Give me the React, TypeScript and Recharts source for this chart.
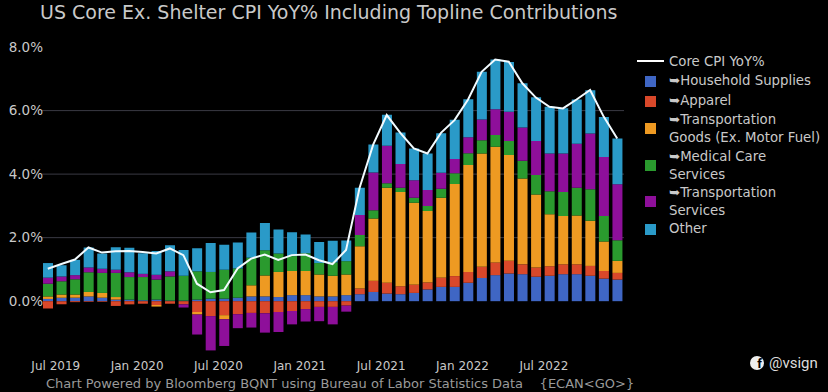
import React from 'react';
import { ComposedChart, Bar, Line, XAxis, YAxis, CartesianGrid, Legend } from 'recharts';

const months = [
  'Jul 2019', 'Aug 2019', 'Sep 2019', 'Oct 2019', 'Nov 2019', 'Dec 2019',
  'Jan 2020', 'Feb 2020', 'Mar 2020', 'Apr 2020', 'May 2020', 'Jun 2020',
  'Jul 2020', 'Aug 2020', 'Sep 2020', 'Oct 2020', 'Nov 2020', 'Dec 2020',
  'Jan 2021', 'Feb 2021', 'Mar 2021', 'Apr 2021', 'May 2021', 'Jun 2021',
  'Jul 2021', 'Aug 2021', 'Sep 2021', 'Oct 2021', 'Nov 2021', 'Dec 2021',
  'Jan 2022', 'Feb 2022', 'Mar 2022', 'Apr 2022', 'May 2022', 'Jun 2022',
  'Jul 2022', 'Aug 2022', 'Sep 2022', 'Oct 2022', 'Nov 2022', 'Dec 2022', 'Jan 2023',
];
const xTicks = ['Jul 2019', 'Jan 2020', 'Jul 2020', 'Jan 2021', 'Jul 2021', 'Jan 2022', 'Jul 2022'];
const yTicks = [0, 2, 4, 6, 8];
const gridValues = [2, 4, 6];

const household = [0.07, 0.11, 0.11, 0.15, 0.11, 0.05, 0.05, 0.03, 0.05, 0.02, 0.02, 0.05, 0.08, 0.08, 0.11, 0.15, 0.15, 0.13, 0.19, 0.19, 0.15, 0.15, 0.19, 0.22, 0.29, 0.24, 0.22, 0.26, 0.37, 0.45, 0.45, 0.58, 0.73, 0.82, 0.87, 0.85, 0.77, 0.8, 0.85, 0.85, 0.8, 0.71, 0.68];
const apparel = [-0.23, -0.1, -0.03, -0.02, -0.02, -0.15, -0.1, -0.08, -0.12, -0.08, -0.1, -0.34, -0.47, -0.44, -0.41, -0.37, -0.38, -0.34, -0.31, -0.25, -0.18, -0.18, -0.14, 0.18, 0.35, 0.34, 0.25, 0.26, 0.22, 0.29, 0.34, 0.34, 0.35, 0.4, 0.4, 0.31, 0.29, 0.3, 0.31, 0.31, 0.31, 0.24, 0.21];
const transportGoods = [0.08, 0.1, 0.1, 0.14, 0.15, 0.08, 0, 0, -0.05, 0, 0, -0.08, 0, -0.13, 0, 0.35, 0.66, 0.79, 0.76, 0.76, 0.69, 0.65, 0.65, 1.33, 1.96, 2.99, 2.97, 2.58, 2.25, 2.52, 2.9, 3.37, 3.57, 3.64, 3.33, 2.7, 2.3, 1.64, 1.52, 1.54, 1.42, 0.93, 0.38];
const medicalCare = [0.4, 0.42, 0.48, 0.62, 0.63, 0.76, 0.71, 0.73, 0.63, 0.76, 0.78, 0.89, 0.84, 0.91, 0.92, 0.87, 0.79, 0.58, 0.47, 0.56, 0.36, 0.42, 0.42, 0.35, 0.26, 0.14, 0.13, 0.16, 0.16, 0.28, 0.34, 0.37, 0.42, 0.37, 0.44, 0.56, 0.61, 0.72, 0.76, 0.87, 0.99, 0.8, 0.65];
const transportServices = [0.19, 0.15, 0.13, 0.15, 0.13, 0.1, 0.15, 0.1, 0.15, 0.16, -0.1, -0.63, -1.08, -0.84, -0.44, -0.46, -0.61, -0.63, -0.42, -0.39, -0.45, -0.55, -0.19, 0.63, 1.19, 1.18, 0.75, 0.55, 0.5, 0.5, 0.45, 0.5, 0.65, 0.81, 0.92, 1.05, 1.07, 1.19, 1.21, 1.39, 1.76, 1.86, 1.76];
const other = [0.46, 0.35, 0.48, 0.63, 0.48, 0.71, 0.77, 0.65, 0.75, 0.82, 0.81, 0.73, 0.91, 0.79, 0.82, 0.79, 0.86, 0.76, 0.75, 0.59, 0.66, 0.68, 0.65, 0.86, 0.88, 0.98, 0.99, 1, 1.15, 1.25, 1.23, 1.2, 1.5, 1.57, 1.57, 1.39, 1.38, 1.47, 1.42, 1.39, 1.36, 1.26, 1.44];
const coreCpi = [1.02, 1.17, 1.31, 1.69, 1.53, 1.57, 1.58, 1.55, 1.5, 1.66, 1.45, 0.55, 0.28, 0.35, 1.03, 1.34, 1.47, 1.3, 1.45, 1.47, 1.29, 1.17, 1.61, 3.57, 4.93, 5.86, 5.3, 4.81, 4.65, 5.3, 5.7, 6.35, 7.22, 7.61, 7.54, 6.86, 6.41, 6.12, 6.07, 6.35, 6.65, 5.81, 5.12];

const chartData = months.map((month, i) => ({
  month,
  household: household[i],
  apparel: apparel[i],
  transportGoods: transportGoods[i],
  medicalCare: medicalCare[i],
  transportServices: transportServices[i],
  other: other[i],
  coreCpi: coreCpi[i],
}));

const FONT = '"DejaVu Sans", Verdana, sans-serif';
const TEXT = '#c9c9c9';

const legendRows = [
  { color: '#3f66c4', lines: ['\u27A5Household Supplies'], top: 72 },
  { color: '#d9482a', lines: ['\u27A5Apparel'], top: 92 },
  { color: '#ee9a22', lines: ['\u27A5Transportation', 'Goods (Ex. Motor Fuel)'], top: 111 },
  { color: '#2a9a2e', lines: ['\u27A5Medical Care', 'Services'], top: 148 },
  { color: '#8e0f9a', lines: ['\u27A5Transportation', 'Services'], top: 184 },
  { color: '#2a9ac8', lines: ['Other'], top: 220 },
];

const ChartLegend = () => (
  <div style={{ position: 'relative', width: 190, height: 200, fontFamily: FONT, fontSize: 13.3, color: TEXT, lineHeight: '17.5px' }}>
    <div style={{ position: 'absolute', left: 1, top: 9, width: 27, height: 2, background: '#fff' }} />
    <div style={{ position: 'absolute', left: 33, top: 2, whiteSpace: 'nowrap' }}>Core CPI YoY%</div>
    {legendRows.map((row) => (
      <div key={row.color}>
        <div
          style={{
            position: 'absolute',
            left: 9,
            top: row.top - 51 + (row.lines.length > 1 ? 12 : 4),
            width: 11,
            height: 11,
            background: row.color,
          }}
        />
        <div style={{ position: 'absolute', left: 33, top: row.top - 51, whiteSpace: 'nowrap' }}>
          {row.lines.map((line) => (
            <div key={line}>{line}</div>
          ))}
        </div>
      </div>
    ))}
  </div>
);

const App = () => (
  <div style={{ position: 'absolute', left: 0, top: 0, width: 828, height: 392, background: '#000', overflow: 'hidden', fontFamily: FONT }}>
    <div style={{ position: 'absolute', left: 40, top: 0, fontSize: 19, color: TEXT, whiteSpace: 'nowrap', lineHeight: '24px' }}>
      US Core Ex. Shelter CPI YoY% Including Topline Contributions
    </div>
    <ComposedChart
      width={828}
      height={392}
      data={chartData}
      stackOffset="sign"
      barCategoryGap={0}
      margin={{ top: 35, right: 14, bottom: 0, left: 0 }}
    >
      <CartesianGrid vertical={false} horizontalValues={gridValues} stroke="#3a3a44" />
      <XAxis
        dataKey="month"
        ticks={xTicks}
        interval={0}
        height={40}
        axisLine={false}
        tickLine={false}
        tickMargin={3}
        tick={{ fill: TEXT, fontSize: 12, fontFamily: FONT, dx: 8 }}
      />
      <YAxis
        width={41}
        domain={[-1.6, 8.38]}
        ticks={yTicks}
        allowDataOverflow
        axisLine={false}
        tickLine={false}
        tickMargin={0}
        tickFormatter={(v: number) => `${v.toFixed(1)}%`}
        tick={{ fill: TEXT, fontSize: 13.5, fontFamily: FONT, dx: 8 }}
      />
      <Legend
        layout="vertical"
        align="right"
        verticalAlign="top"
        content={<ChartLegend />}
        wrapperStyle={{ left: 636, top: 51, width: 190 }}
      />
      <Bar dataKey="household" stackId="a" barSize={10} fill="#3f66c4" isAnimationActive={false} />
      <Bar dataKey="apparel" stackId="a" barSize={10} fill="#d9482a" isAnimationActive={false} />
      <Bar dataKey="transportGoods" stackId="a" barSize={10} fill="#ee9a22" isAnimationActive={false} />
      <Bar dataKey="medicalCare" stackId="a" barSize={10} fill="#2a9a2e" isAnimationActive={false} />
      <Bar dataKey="transportServices" stackId="a" barSize={10} fill="#8e0f9a" isAnimationActive={false} />
      <Bar dataKey="other" stackId="a" barSize={10} fill="#2a9ac8" isAnimationActive={false} />
      <Line dataKey="coreCpi" type="linear" stroke="#f2fbff" strokeWidth={2} dot={false} isAnimationActive={false} />
    </ComposedChart>
    <div style={{ position: 'absolute', left: 750, top: 354, display: 'flex', alignItems: 'center', color: '#ddd', fontSize: 15, fontFamily: 'Roboto, sans-serif' }}>
      <span style={{ width: 14, height: 14, borderRadius: 7, background: '#eee', color: '#000', fontSize: 13, fontWeight: 700, lineHeight: '16px', textAlign: 'right', paddingRight: 2, marginRight: 5, boxSizing: 'border-box', display: 'inline-block' }}>f</span>
      @vsign
    </div>
    <div style={{ position: 'absolute', left: 46, top: 376, fontSize: 13, lineHeight: '16px', color: '#9a9a9a', whiteSpace: 'pre' }}>
      {'Chart Powered by Bloomberg BQNT using Bureau of Labor Statistics Data    {ECAN<GO>}'}
    </div>
  </div>
);

export default App;
